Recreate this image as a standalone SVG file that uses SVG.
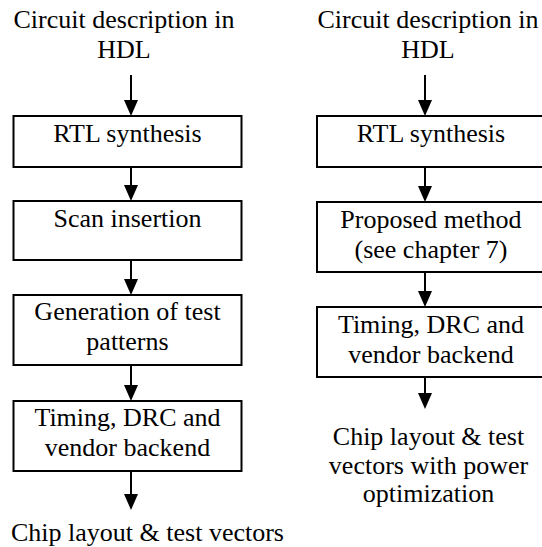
<svg xmlns="http://www.w3.org/2000/svg" width="542" height="547" viewBox="0 0 542 547">
  <defs>
    <marker id="head" viewBox="0 0 16 14" refX="14" refY="7" markerWidth="16" markerHeight="14" markerUnits="userSpaceOnUse" orient="auto">
      <path d="M0,0 L16,7 L0,14 z" fill="#000"/>
    </marker>
    <style>
      .box { fill: #fff; stroke: #000; stroke-width: 2; }
      .lbl { font-family: 'Liberation Serif', Tinos, 'Times New Roman', 'DejaVu Serif', 'Noto Serif', serif; font-size: 26px; fill: #000; text-anchor: middle; }
      .edge { stroke: #000; stroke-width: 2; fill: none; marker-end: url(#head); }
    </style>
  </defs>
  <rect width="542" height="547" fill="#fff"/>

  <!-- left flow: conventional scan-based design -->
  <g id="l-source">
    <text class="lbl" x="124" y="28">Circuit description in</text>
    <text class="lbl" x="124" y="58">HDL</text>
  </g>
  <g id="l-rtl">
    <rect class="box" x="13.5" y="116" width="228" height="51"/>
    <text class="lbl" x="127.5" y="142">RTL synthesis</text>
  </g>
  <g id="l-scan">
    <rect class="box" x="13.5" y="201" width="228" height="59"/>
    <text class="lbl" x="127.5" y="227">Scan insertion</text>
  </g>
  <g id="l-atpg">
    <rect class="box" x="13.5" y="295" width="228" height="70"/>
    <text class="lbl" x="127.5" y="320">Generation of test</text>
    <text class="lbl" x="127.5" y="350">patterns</text>
  </g>
  <g id="l-backend">
    <rect class="box" x="13.5" y="401" width="228" height="70"/>
    <text class="lbl" x="127.5" y="426">Timing, DRC and</text>
    <text class="lbl" x="127.5" y="456">vendor backend</text>
  </g>
  <g id="l-result">
    <text class="lbl" x="147.5" y="541">Chip layout &amp; test vectors</text>
  </g>

  <!-- right flow: with the proposed method -->
  <g id="r-source">
    <text class="lbl" x="428" y="28">Circuit description in</text>
    <text class="lbl" x="428" y="58">HDL</text>
  </g>
  <g id="r-rtl">
    <rect class="box" x="317" y="116" width="228" height="51"/>
    <text class="lbl" x="431" y="142">RTL synthesis</text>
  </g>
  <g id="r-method">
    <rect class="box" x="317" y="202" width="228" height="70"/>
    <text class="lbl" x="431" y="228">Proposed method</text>
    <text class="lbl" x="431" y="258">(see chapter 7)</text>
  </g>
  <g id="r-backend">
    <rect class="box" x="317" y="307" width="228" height="70"/>
    <text class="lbl" x="431" y="333">Timing, DRC and</text>
    <text class="lbl" x="431" y="363">vendor backend</text>
  </g>
  <g id="r-result">
    <text class="lbl" x="428.5" y="445">Chip layout &amp; test</text>
    <text class="lbl" x="428.5" y="474">vectors with power</text>
    <text class="lbl" x="428.5" y="502">optimization</text>
  </g>

  <!-- connectors -->
  <g id="edges">
    <line class="edge" x1="131" y1="75" x2="131" y2="114"/>
    <line class="edge" x1="131" y1="167" x2="131" y2="199"/>
    <line class="edge" x1="131" y1="260" x2="131" y2="293"/>
    <line class="edge" x1="131" y1="365" x2="131" y2="399"/>
    <line class="edge" x1="131" y1="471" x2="131" y2="508"/>
    <line class="edge" x1="425" y1="75" x2="425" y2="114"/>
    <line class="edge" x1="425" y1="167" x2="425" y2="200"/>
    <line class="edge" x1="425" y1="272" x2="425" y2="305"/>
    <line class="edge" x1="425" y1="377" x2="425" y2="407"/>
  </g>
</svg>
